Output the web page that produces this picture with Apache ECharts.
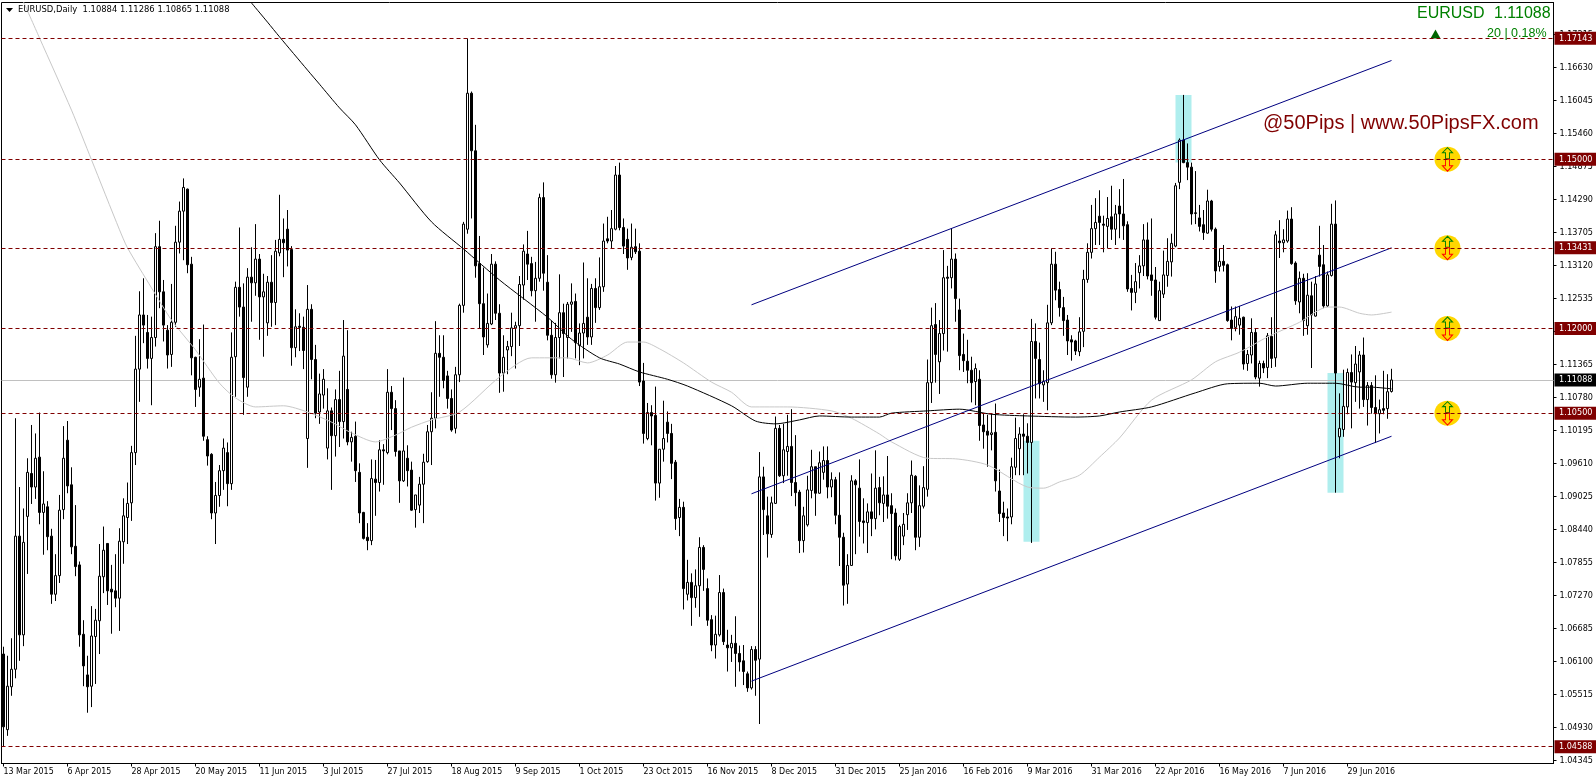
<!DOCTYPE html>
<html><head><meta charset="utf-8"><title>EURUSD Daily</title>
<style>html,body{margin:0;padding:0;background:#fff}#c{width:1596px;height:784px}</style>
<script src="https://cdn.jsdelivr.net/npm/echarts@6/dist/echarts.min.js"></script>
</head><body><div id="c"></div>
<script>
// Every 16th bar carries one of these labels
const tickLabels = ['13 Mar 2015','6 Apr 2015','28 Apr 2015','20 May 2015','11 Jun 2015','3 Jul 2015','27 Jul 2015','18 Aug 2015','9 Sep 2015','1 Oct 2015','23 Oct 2015','16 Nov 2015','8 Dec 2015','31 Dec 2015','25 Jan 2016','16 Feb 2016','9 Mar 2016','31 Mar 2016','22 Apr 2016','16 May 2016','7 Jun 2016','29 Jun 2016'];
const priceTicks = [1.04345,1.04930,1.05515,1.06100,1.06685,1.07270,1.07855,1.08440,1.09025,1.09610,1.10195,1.10780,1.11365,1.11950,1.12535,1.13120,1.13705,1.14290,1.14875,1.15460,1.16045,1.16630,1.17215];
const resistanceLevels = [1.17143,1.15000,1.13431,1.12000,1.10500,1.04588];
const lastPrice = 1.11088;
const iconLevels = [1.15000,1.13431,1.12000,1.10500];
// open, high, low, close
const ohlc = [
[1.0623,1.0636,1.0460,1.0494],[1.0489,1.0620,1.0478,1.0566],[1.0565,1.0651,1.0549,1.0596],[1.0596,1.1041,1.0580,1.0832],
[1.0832,1.0919,1.0611,1.0657],[1.0657,1.0881,1.0637,1.0821],[1.0867,1.0970,1.0765,1.0945],[1.0943,1.1029,1.0889,1.0919],
[1.0919,1.1014,1.0898,1.0970],[1.0972,1.1051,1.0853,1.0874],[1.0874,1.0947,1.0799,1.0889],[1.0884,1.0894,1.0807,1.0831],
[1.0832,1.0845,1.0712,1.0729],[1.0729,1.0800,1.0717,1.0762],[1.0762,1.0905,1.0749,1.0878],[1.0879,1.1027,1.0862,1.0970],
[1.1002,1.1036,1.0908,1.0921],[1.0923,1.0954,1.0800,1.0813],[1.0814,1.0887,1.0761,1.0778],[1.0781,1.0787,1.0636,1.0657],
[1.0658,1.0683,1.0566,1.0602],[1.0586,1.0620,1.0519,1.0565],[1.0566,1.0708,1.0529,1.0655],[1.0654,1.0703,1.0570,1.0683],
[1.0682,1.0818,1.0623,1.0761],[1.0760,1.0849,1.0731,1.0807],[1.0819,1.0819,1.0710,1.0735],[1.0738,1.0781,1.0659,1.0733],
[1.0735,1.0800,1.0706,1.0722],[1.0722,1.0846,1.0664,1.0823],[1.0822,1.0899,1.0783,1.0868],[1.0865,1.0927,1.0818,1.0890],
[1.0891,1.0992,1.0859,1.0980],[1.0980,1.1187,1.0958,1.1128],[1.1128,1.1266,1.1070,1.1224],[1.1224,1.1289,1.1174,1.1206],
[1.1193,1.1224,1.1129,1.1147],[1.1147,1.1221,1.1064,1.1184],[1.1184,1.1369,1.1168,1.1345],[1.1345,1.1391,1.1236,1.1265],
[1.1265,1.1286,1.1177,1.1206],[1.1197,1.1206,1.1129,1.1153],[1.1154,1.1279,1.1132,1.1211],[1.1211,1.1382,1.1203,1.1353],
[1.1353,1.1425,1.1333,1.1408],[1.1408,1.1466,1.1321,1.1450],[1.1447,1.1448,1.1298,1.1313],[1.1314,1.1327,1.1117,1.1148],
[1.1149,1.1150,1.1061,1.1092],[1.1096,1.1181,1.1079,1.1110],[1.1112,1.1207,1.1001,1.1009],[1.1003,1.1009,1.0957,1.0974],
[1.0977,1.0979,1.0862,1.0873],[1.0873,1.0928,1.0818,1.0904],[1.0904,1.0958,1.0884,1.0948],[1.0948,1.1005,1.0914,1.0988],
[1.0980,1.0998,1.0885,1.0925],[1.0925,1.1193,1.0914,1.1149],[1.1150,1.1283,1.1079,1.1273],[1.1273,1.1379,1.1221,1.1238],
[1.1238,1.1280,1.1047,1.1113],[1.1096,1.1307,1.1079,1.1291],[1.1291,1.1344,1.1212,1.1281],[1.1281,1.1385,1.1258,1.1323],
[1.1323,1.1332,1.1180,1.1256],[1.1256,1.1297,1.1150,1.1265],[1.1210,1.1293,1.1187,1.1282],[1.1282,1.1330,1.1203,1.1246],
[1.1246,1.1357,1.1206,1.1337],[1.1334,1.1437,1.1328,1.1358],[1.1358,1.1395,1.1291,1.1352],[1.1376,1.1410,1.1310,1.1339],
[1.1340,1.1346,1.1134,1.1166],[1.1166,1.1234,1.1149,1.1203],[1.1204,1.1227,1.1160,1.1202],[1.1202,1.1221,1.1128,1.1161],
[1.1005,1.1277,1.0953,1.1234],[1.1234,1.1243,1.1110,1.1145],[1.1145,1.1171,1.1041,1.1050],[1.1052,1.1120,1.1031,1.1084],
[1.1082,1.1128,1.1058,1.1110],[1.0988,1.1094,1.0968,1.1054],[1.1054,1.1060,1.0914,1.1010],[1.1010,1.1092,1.0973,1.1074],
[1.1074,1.1125,1.0990,1.1035],[1.1035,1.1215,1.1005,1.1151],[1.1092,1.1197,1.0993,1.0999],[1.0999,1.1017,1.0964,1.1007],
[1.1009,1.1035,1.0928,1.0948],[1.0945,1.0961,1.0855,1.0873],[1.0874,1.0875,1.0826,1.0828],[1.0830,1.0855,1.0807,1.0824],
[1.0824,1.0968,1.0816,1.0934],[1.0933,1.0967,1.0868,1.0927],[1.0927,1.1002,1.0911,1.0985],[1.0985,1.0995,1.0923,1.0983],
[1.0980,1.1128,1.0977,1.1087],[1.1087,1.1098,1.1020,1.1058],[1.1058,1.1073,1.0973,1.0982],[1.0983,1.0983,1.0891,1.0930],
[1.0930,1.1113,1.0928,1.0983],[1.0970,1.0993,1.0920,1.0948],[1.0949,1.0964,1.0877,1.0878],[1.0879,1.0905,1.0847,1.0905],
[1.0887,1.0937,1.0873,1.0924],[1.0924,1.0978,1.0855,1.0963],[1.0964,1.1029,1.0962,1.1017],[1.1017,1.1087,1.0958,1.1041],
[1.1041,1.1213,1.1023,1.1156],[1.1156,1.1188,1.1079,1.1149],[1.1149,1.1188,1.1094,1.1108],[1.1116,1.1125,1.1058,1.1076],
[1.1076,1.1092,1.1017,1.1020],[1.1023,1.1132,1.1014,1.1118],[1.1118,1.1244,1.1105,1.1241],[1.1241,1.1389,1.1228,1.1385],
[1.1376,1.1714,1.1368,1.1617],[1.1617,1.1620,1.1395,1.1515],[1.1515,1.1561,1.1290,1.1311],[1.1315,1.1364,1.1200,1.1244],
[1.1244,1.1308,1.1153,1.1185],[1.1171,1.1262,1.1166,1.1209],[1.1208,1.1332,1.1206,1.1314],[1.1314,1.1319,1.1215,1.1227],
[1.1227,1.1243,1.1086,1.1121],[1.1121,1.1188,1.1088,1.1149],[1.1162,1.1178,1.1119,1.1168],[1.1168,1.1228,1.1151,1.1201],
[1.1201,1.1212,1.1129,1.1205],[1.1205,1.1293,1.1169,1.1278],[1.1277,1.1349,1.1251,1.1337],[1.1332,1.1373,1.1286,1.1314],
[1.1315,1.1327,1.1257,1.1267],[1.1267,1.1318,1.1212,1.1289],[1.1289,1.1439,1.1283,1.1432],[1.1432,1.1459,1.1267,1.1298],
[1.1282,1.1330,1.1179,1.1188],[1.1188,1.1214,1.1111,1.1118],[1.1118,1.1210,1.1104,1.1184],[1.1184,1.1296,1.1147,1.1228],
[1.1228,1.1244,1.1114,1.1191],[1.1184,1.1247,1.1147,1.1243],[1.1243,1.1280,1.1194,1.1247],[1.1248,1.1262,1.1147,1.1175],
[1.1170,1.1209,1.1135,1.1192],[1.1192,1.1317,1.1147,1.1209],[1.1220,1.1289,1.1171,1.1185],[1.1185,1.1279,1.1171,1.1271],
[1.1271,1.1289,1.1210,1.1237],[1.1237,1.1326,1.1233,1.1274],[1.1274,1.1386,1.1265,1.1355],[1.1359,1.1398,1.1351,1.1355],
[1.1355,1.1410,1.1342,1.1377],[1.1376,1.1488,1.1374,1.1472],[1.1472,1.1494,1.1374,1.1379],[1.1379,1.1395,1.1332,1.1346],
[1.1358,1.1377,1.1304,1.1325],[1.1326,1.1386,1.1321,1.1344],[1.1345,1.1377,1.1332,1.1336],[1.1337,1.1351,1.1098,1.1105],
[1.1107,1.1139,1.0996,1.1014],[1.1005,1.1068,1.1002,1.1051],[1.1051,1.1064,1.0993,1.1045],[1.1046,1.1097,1.0895,1.0926],
[1.0926,1.0986,1.0900,1.0986],[1.0986,1.1072,1.0964,1.1005],[1.1034,1.1053,1.0998,1.1014],[1.1014,1.1031,1.0933,1.0961],
[1.0963,1.0967,1.0843,1.0863],[1.0865,1.0898,1.0832,1.0883],[1.0883,1.0893,1.0702,1.0739],[1.0729,1.0790,1.0718,1.0750],
[1.0750,1.0766,1.0673,1.0723],[1.0723,1.0773,1.0705,1.0744],[1.0744,1.0830,1.0689,1.0812],[1.0812,1.0816,1.0735,1.0773],
[1.0739,1.0757,1.0673,1.0683],[1.0684,1.0692,1.0628,1.0639],[1.0639,1.0691,1.0615,1.0658],[1.0657,1.0763,1.0654,1.0732],
[1.0732,1.0739,1.0639,1.0645],[1.0639,1.0666,1.0592,1.0634],[1.0634,1.0657,1.0609,1.0642],[1.0642,1.0690,1.0565,1.0624],
[1.0624,1.0638,1.0592,1.0609],[1.0611,1.0639,1.0568,1.0592],[1.0588,1.0592,1.0556,1.0563],[1.0563,1.0637,1.0560,1.0631],
[1.0631,1.0637,1.0549,1.0612],[1.0614,1.0981,1.0499,1.0937],[1.0937,1.0955,1.0834,1.0879],[1.0868,1.0902,1.0794,1.0836],
[1.0835,1.0902,1.0829,1.0891],[1.0890,1.1044,1.0889,1.1023],[1.1023,1.1029,1.0937,1.0939],[1.0939,1.1031,1.0926,1.0985],
[1.0982,1.1047,1.0939,1.0991],[1.0991,1.1057,1.0903,1.0927],[1.0927,1.1011,1.0885,1.0909],[1.0910,1.0914,1.0802,1.0824],
[1.0824,1.0884,1.0803,1.0868],[1.0852,1.0939,1.0849,1.0914],[1.0913,1.0985,1.0899,1.0955],[1.0955,1.0955,1.0868,1.0908],
[1.0908,1.0982,1.0907,1.0962],[1.0945,1.0991,1.0932,1.0966],[1.0966,1.0991,1.0899,1.0919],[1.0919,1.0945,1.0901,1.0932],
[1.0932,1.0937,1.0853,1.0869],[1.0869,1.0945,1.0779,1.0830],[1.0830,1.0838,1.0709,1.0745],[1.0747,1.0800,1.0712,1.0780],
[1.0780,1.0940,1.0779,1.0930],[1.0930,1.0933,1.0800,1.0923],[1.0917,1.0968,1.0831,1.0858],[1.0859,1.0899,1.0819,1.0856],
[1.0856,1.0890,1.0802,1.0875],[1.0875,1.0943,1.0832,1.0863],[1.0863,1.0984,1.0844,1.0917],[1.0918,1.0937,1.0869,1.0891],
[1.0890,1.0938,1.0857,1.0905],[1.0905,1.0974,1.0863,1.0885],[1.0886,1.0908,1.0791,1.0872],[1.0873,1.0881,1.0789,1.0797],
[1.0791,1.0852,1.0788,1.0849],[1.0832,1.0873,1.0816,1.0853],[1.0870,1.0908,1.0843,1.0891],[1.0891,1.0966,1.0873,1.0940],
[1.0938,1.0940,1.0807,1.0830],[1.0830,1.0922,1.0813,1.0886],[1.0885,1.0956,1.0881,1.0918],[1.0915,1.1145,1.0902,1.1104],
[1.1104,1.1237,1.1068,1.1205],[1.1207,1.1245,1.1104,1.1154],[1.1141,1.1215,1.1084,1.1191],[1.1191,1.1339,1.1161,1.1290],
[1.1291,1.1311,1.1159,1.1289],[1.1290,1.1378,1.1271,1.1323],[1.1323,1.1333,1.1212,1.1253],[1.1233,1.1253,1.1126,1.1152],
[1.1154,1.1191,1.1123,1.1143],[1.1142,1.1180,1.1103,1.1126],[1.1126,1.1150,1.1069,1.1104],[1.1106,1.1138,1.1064,1.1129],
[1.1110,1.1126,1.1001,1.1028],[1.1029,1.1049,1.0987,1.1017],[1.1018,1.1047,1.0955,1.1011],[1.1012,1.1049,1.0984,1.1015],
[1.1016,1.1067,1.0911,1.0930],[1.0912,1.0950,1.0857,1.0872],[1.0873,1.0893,1.0832,1.0865],[1.0866,1.0881,1.0823,1.0864],
[1.0866,1.0971,1.0853,1.0955],[1.0954,1.1042,1.0940,1.1005],[1.0987,1.1025,1.0940,1.1013],[1.1013,1.1048,1.0940,1.1009],
[1.1009,1.1032,1.0943,1.0998],[1.0998,1.1217,1.0820,1.1177],[1.1177,1.1209,1.1076,1.1147],[1.1145,1.1175,1.1076,1.1102],
[1.1100,1.1126,1.1070,1.1106],[1.1104,1.1242,1.1055,1.1210],[1.1210,1.1342,1.1206,1.1314],[1.1314,1.1336,1.1250,1.1268],
[1.1269,1.1283,1.1221,1.1237],[1.1237,1.1256,1.1187,1.1214],[1.1215,1.1224,1.1153,1.1178],[1.1180,1.1188,1.1143,1.1176],
[1.1178,1.1180,1.1153,1.1160],[1.1159,1.1220,1.1151,1.1194],[1.1195,1.1304,1.1167,1.1287],[1.1287,1.1351,1.1281,1.1335],
[1.1335,1.1419,1.1324,1.1377],[1.1377,1.1431,1.1348,1.1388],[1.1399,1.1445,1.1348,1.1388],[1.1385,1.1400,1.1335,1.1383],
[1.1381,1.1433,1.1342,1.1395],[1.1398,1.1453,1.1357,1.1376],[1.1376,1.1419,1.1348,1.1403],[1.1417,1.1447,1.1360,1.1403],
[1.1403,1.1465,1.1357,1.1382],[1.1384,1.1390,1.1265,1.1270],[1.1271,1.1295,1.1232,1.1264],[1.1264,1.1316,1.1245,1.1283],
[1.1299,1.1330,1.1271,1.1311],[1.1311,1.1385,1.1293,1.1357],[1.1357,1.1388,1.1287,1.1293],[1.1295,1.1395,1.1258,1.1285],
[1.1286,1.1309,1.1216,1.1220],[1.1214,1.1283,1.1214,1.1267],[1.1261,1.1338,1.1254,1.1295],[1.1294,1.1360,1.1274,1.1319],
[1.1318,1.1368,1.1292,1.1351],[1.1346,1.1458,1.1344,1.1453],[1.1459,1.1537,1.1447,1.1534],[1.1534,1.1614,1.1493,1.1494],
[1.1494,1.1528,1.1463,1.1486],[1.1486,1.1494,1.1384,1.1403],[1.1405,1.1479,1.1385,1.1404],[1.1396,1.1419,1.1372,1.1381],
[1.1384,1.1410,1.1357,1.1370],[1.1369,1.1446,1.1368,1.1426],[1.1426,1.1428,1.1372,1.1376],[1.1376,1.1379,1.1281,1.1302],
[1.1310,1.1342,1.1301,1.1319],[1.1319,1.1348,1.1301,1.1312],[1.1313,1.1315,1.1212,1.1214],[1.1215,1.1239,1.1179,1.1200],
[1.1202,1.1239,1.1195,1.1221],[1.1206,1.1240,1.1189,1.1218],[1.1220,1.1221,1.1127,1.1137],[1.1138,1.1162,1.1125,1.1154],
[1.1153,1.1218,1.1138,1.1193],[1.1193,1.1200,1.1110,1.1114],[1.1112,1.1143,1.1097,1.1138],[1.1138,1.1143,1.1121,1.1130],
[1.1131,1.1192,1.1112,1.1187],[1.1186,1.1220,1.1130,1.1147],[1.1148,1.1373,1.1132,1.1366],[1.1355,1.1392,1.1325,1.1352],
[1.1352,1.1376,1.1335,1.1357],[1.1355,1.1409,1.1352,1.1394],[1.1394,1.1415,1.1313,1.1315],[1.1316,1.1319,1.1242,1.1249],
[1.1247,1.1301,1.1227,1.1289],[1.1289,1.1297,1.1187,1.1214],[1.1205,1.1298,1.1189,1.1259],[1.1258,1.1283,1.1130,1.1224],
[1.1222,1.1293,1.1221,1.1279],[1.1330,1.1382,1.1292,1.1310],[1.1313,1.1348,1.1236,1.1240],[1.1240,1.1301,1.1238,1.1295],
[1.1294,1.1421,1.1292,1.1385],[1.1385,1.1427,1.0909,1.1121],[1.1008,1.1085,1.0970,1.1023],[1.1021,1.1127,1.1008,1.1062],
[1.1061,1.1129,1.1048,1.1122],[1.1122,1.1154,1.1023,1.1105],[1.1104,1.1169,1.1070,1.1137],[1.1123,1.1160,1.1058,1.1153],
[1.1153,1.1184,1.1061,1.1074],[1.1074,1.1105,1.1028,1.1099],[1.1099,1.1105,1.1049,1.1060],[1.1060,1.1117,1.0997,1.1049],
[1.1049,1.1074,1.1014,1.1056],[1.1058,1.1125,1.1048,1.1055],[1.1058,1.1119,1.1040,1.1088],[1.10884,1.11286,1.10865,1.11088]
];
const ma200 = [[62,1.1777],[66,1.1743],[69,1.1717],[76,1.1658],[79,1.1633],[84,1.1591],[88,1.1561],[94,1.1499],[99,1.1458],[107,1.1389],[115,1.1341],[124,1.1286],[136,1.1220],[142,1.1181],[149,1.1148],[154,1.1137],[159,1.1123],[166,1.1110],[171,1.1098],[182,1.1063],[188,1.1036],[193,1.1031],[199,1.1038],[204,1.1045],[212,1.1043],[219,1.1043],[222,1.1050],[231,1.1054],[239,1.1057],[247,1.1048],[256,1.1045],[268,1.1043],[274,1.1045],[279,1.1052],[287,1.1061],[298,1.1086],[306,1.1102],[314,1.1103],[318,1.1098],[326,1.1103],[333,1.1103],[339,1.1096],[342,1.1096],[347,1.1093]];
const ma50 = [[5,1.1779],[9,1.1715],[17,1.1587],[22,1.1499],[29,1.1375],[31,1.1343],[37,1.1272],[42,1.1215],[48,1.1162],[54,1.1103],[58,1.1077],[63,1.1061],[70,1.1063],[76,1.1052],[82,1.1034],[87,1.1015],[93,1.0999],[98,1.1011],[102,1.1025],[107,1.1038],[114,1.1052],[124,1.1114],[132,1.1148],[141,1.1148],[146,1.1139],[151,1.1153],[156,1.1176],[160,1.1176],[164,1.1164],[170,1.1139],[177,1.1105],[182,1.1087],[187,1.1061],[196,1.1061],[207,1.1054],[212,1.1041],[219,1.1013],[222,1.0999],[231,1.0970],[238,1.0969],[246,1.0958],[256,1.0919],[260,1.0917],[264,1.0928],[269,1.0940],[274,1.0972],[279,1.1006],[287,1.1073],[297,1.1109],[303,1.1141],[309,1.1158],[316,1.1185],[324,1.1211],[331,1.1238],[334,1.1238],[339,1.1227],[342,1.1224],[347,1.1229]];
const channelUpper = [[187,1.1242],[347,1.1675]];
const channelMiddle = [[187,1.0907],[347,1.1343]];
const channelLower = [[187,1.0575],[347,1.1009]];
// bar index of the centre, top price, bottom price
const highlightBoxes = [[257,1.1001,1.0822],[295,1.1614,1.1494],[333,1.1121,1.0909]];
const iconBar = 361;
const arrowMark = [358,1.1722];
const barCount = 388;

const categories = Array.from({length:barCount},(_,i)=> (i%16===0 && tickLabels[i/16]) ? tickLabels[i/16] : '');
const uiFont = '"DejaVu Sans Condensed","DejaVu Sans",sans-serif';
const maroon = '#800000';
const upArrow = 'path://M5 0 L10 5 L7 5 L7 11 L3 11 L3 5 L0 5 Z';
const downArrow = 'path://M3 0 L7 0 L7 6 L10 6 L5 11 L0 6 L3 6 Z';

function lineSeries(name,data,color,width,z,smooth){
  return {name,type:'line',data,symbol:'none',smooth:smooth||false,z,silent:true,clip:true,
          lineStyle:{color,width},itemStyle:{color}};
}
function boxLabel(bg){
  return {show:true,position:'end',distance:1,color:'#fff',backgroundColor:bg,
          fontFamily:uiFont,fontSize:9,padding:[2,4.5,1,4.5],lineHeight:10,
          formatter:p=>Number(p.value).toFixed(5)};
}

const chart = echarts.init(document.getElementById('c'),null,{renderer:'canvas'});
chart.setOption({
  animation:false,
  backgroundColor:'#fff',
  grid:{left:1.5,right:42.5,top:2.5,bottom:20.5,outerBoundsMode:'none',show:true,borderColor:'#000',borderWidth:1,backgroundColor:'transparent'},
  xAxis:{type:'category',data:categories,boundaryGap:true,
    axisLine:{show:true,lineStyle:{color:'#000'}},
    axisTick:{show:true,alignWithLabel:true,length:3,lineStyle:{color:'#000'},interval:(i,v)=>v!==''},
    axisLabel:{show:true,interval:(i,v)=>v!=='',align:'left',margin:4,color:'#000',fontFamily:uiFont,fontSize:8.8},
    splitLine:{show:false}},
  yAxis:{type:'value',position:'right',min:1.0429,max:1.17778,scale:true,
    axisLine:{show:true,lineStyle:{color:'#000'}},
    axisTick:{show:true,length:3,lineStyle:{color:'#000'},customValues:priceTicks},
    axisLabel:{show:true,margin:6,color:'#000',fontFamily:uiFont,fontSize:9,hideOverlap:false,customValues:priceTicks,formatter:v=>Number(v).toFixed(5)},
    splitLine:{show:false}},
  series:[
    {name:'EURUSD',type:'candlestick',data:ohlc.map(r=>[r[0],r[3],r[2],r[1]]),barWidth:3,z:3,silent:true,clip:true,
      itemStyle:{color:'#fff',color0:'#000',borderColor:'#000',borderColor0:'#000',borderWidth:1},
      markArea:{silent:true,z:1,itemStyle:{color:'#afeeee',borderWidth:0},
        data:highlightBoxes.map(b=>[{xAxis:b[0]-2,yAxis:b[1]},{xAxis:b[0]+2,yAxis:b[2]}])}},
    lineSeries('MA50',ma50,'#c8c8c8',1,4,0.25),
    lineSeries('MA200',ma200,'#000',1,4,0.25),
    lineSeries('Channel upper',channelUpper,'#000080',1,5),
    lineSeries('Channel middle',channelMiddle,'#000080',1,5),
    lineSeries('Channel lower',channelLower,'#000080',1,5),
    {name:'Icon disc',type:'scatter',symbol:'circle',symbolSize:[26,25],z:4,silent:true,
      data:iconLevels.map(v=>[iconBar,v]),itemStyle:{color:'#ffd700',opacity:1}},
    {name:'Icon up',type:'scatter',symbol:upArrow,symbolSize:[10,11],symbolOffset:[0,-6],z:5,silent:true,
      data:iconLevels.map(v=>[iconBar,v]),itemStyle:{color:'rgba(0,0,0,0)',borderColor:'#008000',borderWidth:1,opacity:1}},
    {name:'Icon down',type:'scatter',symbol:downArrow,symbolSize:[10,12],symbolOffset:[0,6],z:5,silent:true,
      data:iconLevels.map(v=>[iconBar,v]),itemStyle:{color:'rgba(0,0,0,0)',borderColor:'#ff0000',borderWidth:1,opacity:1}},
    {name:'Direction',type:'scatter',symbol:'triangle',symbolSize:[10,9],z:6,silent:true,clip:false,
      data:[arrowMark],itemStyle:{color:'#006400',opacity:1}},
    {name:'Levels',type:'line',data:[],z:7,silent:true,
      markLine:{silent:true,symbol:'none',animation:false,precision:5,z:7,
        lineStyle:{color:maroon,type:[4,3],width:1},
        label:boxLabel('#7f0000'),
        data:resistanceLevels.map(v=>({yAxis:v}))}},
    {name:'Last',type:'line',data:[],z:2,silent:true,
      markLine:{silent:true,symbol:'none',animation:false,precision:5,z:2,
        lineStyle:{color:'#c0c0c0',type:'solid',width:1},
        label:boxLabel('#000'),
        data:[{yAxis:lastPrice}]}}
  ],
  graphic:[
    {type:'polygon',z:20,silent:true,shape:{points:[[6,8],[13,8],[9.5,12]]},style:{fill:'#000'}},
    {type:'text',z:20,silent:true,left:18,top:5,style:{text:'EURUSD,Daily  1.10884 1.11286 1.10865 1.11088',fill:'#000',font:'9.35px '+uiFont}},
    {type:'text',z:20,silent:true,left:1417,top:6,style:{text:'EURUSD',fill:'#008000',font:'16px "Liberation Sans",Arial,sans-serif'}},
    {type:'text',z:20,silent:true,left:1494,top:6,style:{text:'1.11088',fill:'#008000',font:'16px "Liberation Sans",Arial,sans-serif'}},
    {type:'text',z:20,silent:true,left:1487,top:27,style:{text:'20 | 0.18%',fill:'#008000',font:'12.5px "Liberation Sans",Arial,sans-serif'}},
    {type:'text',z:20,silent:true,left:1263,top:113,style:{text:'@50Pips | www.50PipsFX.com',fill:'#800000',font:'20px "Liberation Sans",Arial,sans-serif'}}
  ]
});
</script></body></html>
